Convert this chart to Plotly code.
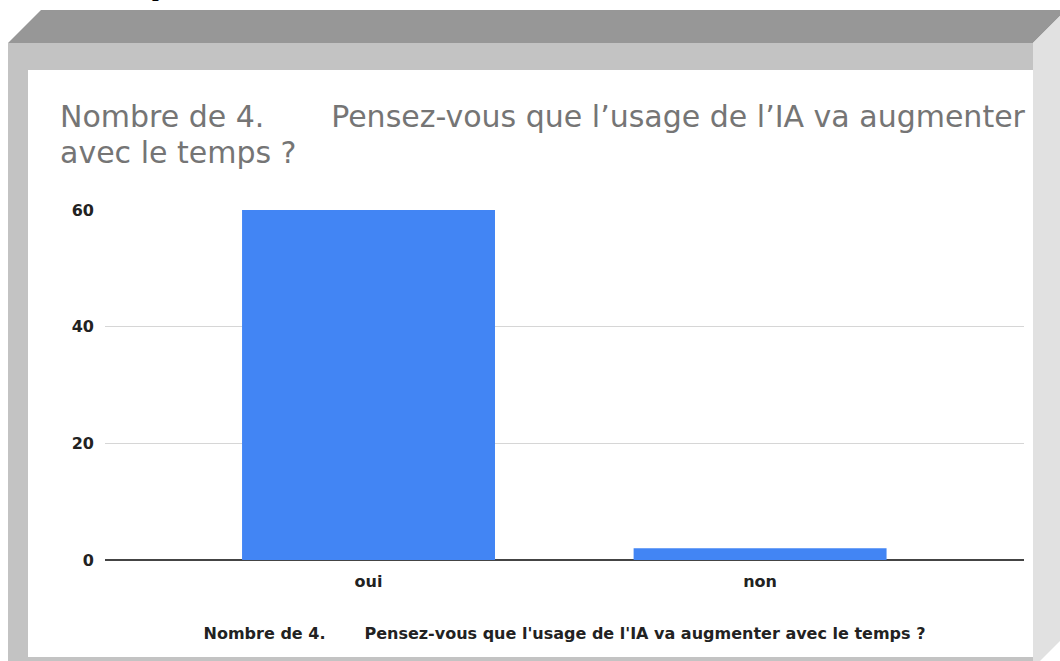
import plotly.graph_objects as go

categories = ['oui', 'non']
counts = [60, 2]
y_ticks = [0, 20, 40, 60]

question = 'Nombre de 4.' + '\u00a0' * 7 + 'Pensez-vous que l\u2019usage de l\u2019IA va augmenter'
question_end = 'avec le temps ?'
axis_title = 'Nombre de 4.' + '\u00a0' * 7 + 'Pensez-vous que l\'usage de l\'IA va augmenter avec le temps ?'

W, H = 1060, 661
L, R, T, B = 105, 36, 210, 101
FONT = 'DejaVu Sans, Arial'

# pixel -> paper helpers for the decorative frame
def px(x):
    return (x - L) / (W - L - R)

def py(y):
    return (H - B - y) / (H - T - B)

def poly(pts):
    return 'M ' + ' L '.join(f'{px(x):.5f},{py(y):.5f}' for x, y in pts) + ' Z'

fig = go.Figure(go.Bar(x=categories, y=counts, marker_color='#4285F4',
                       marker_line_width=0, width=0.646))

shapes = [
    # inner bevel band
    dict(type='path', path=poly([(8, 43), (1033, 43), (1033, 670), (8, 670)]),
         fillcolor='#c3c3c3', line_width=0),
    # top face
    dict(type='path', path=poly([(8, 43), (41, 10), (1066, 10), (1033, 43)]),
         fillcolor='#979797', line_width=0),
    # right face
    dict(type='path', path=poly([(1033, 43), (1066, 10), (1066, 635), (1033, 668)]),
         fillcolor='#e1e1e1', line_width=0),
    # white card
    dict(type='path', path=poly([(28, 70), (1033, 70), (1033, 657), (28, 657)]),
         fillcolor='white', line_width=0),
]
for s in shapes:
    s.update(xref='paper', yref='paper', layer='below')

fig.update_layout(
    width=W, height=H,
    margin=dict(l=L, r=R, t=T, b=B),
    paper_bgcolor='white', plot_bgcolor='rgba(0,0,0,0)',
    showlegend=False, shapes=shapes,
    font=dict(family=FONT, color='#222222'),
    annotations=[
        dict(text=question, xref='paper', yref='paper', x=px(58), y=py(97),
             xanchor='left', yanchor='top', showarrow=False,
             font=dict(size=30, color='#757575')),
        dict(text=question_end, xref='paper', yref='paper', x=px(58), y=py(133),
             xanchor='left', yanchor='top', showarrow=False,
             font=dict(size=30, color='#757575')),
        dict(text='<b>p</b>', xref='paper', yref='paper', x=px(158), y=py(3),
             xanchor='center', yanchor='bottom', showarrow=False,
             font=dict(size=24, color='black', family='Liberation Serif')),
    ],
)
fig.update_xaxes(range=[-0.673, 1.674], showgrid=False, showline=False,
                 ticklabelstandoff=10,
                 tickfont=dict(size=16, color='#222222', weight='bold'),
                 title=dict(text=axis_title, standoff=37,
                            font=dict(size=16, color='#222222', weight='bold')))
fig.update_yaxes(range=[0, 60], tickvals=y_ticks, gridcolor='#d6d6d6', gridwidth=1,
                 zeroline=True, zerolinecolor='#444444', zerolinewidth=1.5,
                 showline=False, ticklabelstandoff=10,
                 tickfont=dict(size=16, color='#222222', weight='bold'))

fig.write_html('out.html', config={'displayModeBar': False},
               post_script="document.body.style.margin='0';document.body.style.overflow='hidden';")
